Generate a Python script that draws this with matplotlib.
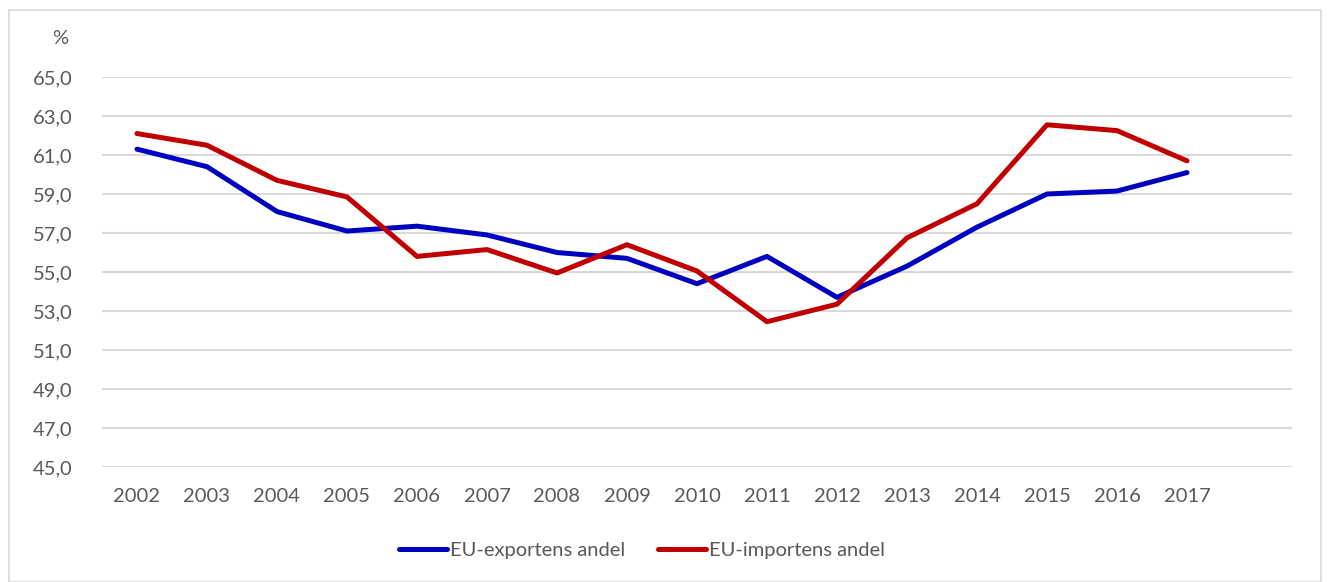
import matplotlib
matplotlib.use("Agg")
import matplotlib.pyplot as plt
from matplotlib.patches import Rectangle
from matplotlib.ticker import FuncFormatter

years = ["2002", "2003", "2004", "2005", "2006", "2007", "2008", "2009",
         "2010", "2011", "2012", "2013", "2014", "2015", "2016", "2017"]
export_share = [61.3, 60.4, 58.1, 57.1, 57.35, 56.9, 56.0, 55.7,
                54.4, 55.8, 53.7, 55.3, 57.3, 59.0, 59.15, 60.1]
import_share = [62.1, 61.5, 59.7, 58.85, 55.8, 56.15, 54.95, 56.4,
                55.05, 52.45, 53.35, 56.75, 58.5, 62.55, 62.25, 60.7]
export_label = "EU-exportens andel"
import_label = "EU-importens andel"
unit_label = "%"

plt.rcParams['font.family'] = ['Lato', 'DejaVu Sans']
txt = "#595959"
fs = 14.5
W, H = 1330, 582
fig = plt.figure(figsize=(W / 100, H / 100), dpi=100)

# outer chart border
fig.patches.append(Rectangle((9 / W, 0.5 / H), 1312 / W, (H - 10.5) / H,
                             transform=fig.transFigure, fill=False,
                             edgecolor="#D9D9D9", linewidth=1.2))

ax = fig.add_axes([102 / W, 1 - 467 / H, 1190 / W, 390 / H])
x = list(range(len(years)))
ax.plot(x, export_share, color="#0000C0", linewidth=3.6,
        solid_capstyle="round", solid_joinstyle="round", label=export_label, zorder=3)
ax.plot(x, import_share, color="#C00000", linewidth=3.6,
        solid_capstyle="round", solid_joinstyle="round", label=import_label, zorder=3)

ax.set_xlim(-0.5, 16.5)
ax.set_ylim(45, 65)
ax.set_yticks([45 + 2 * i for i in range(11)])
ax.yaxis.set_major_formatter(FuncFormatter(lambda v, p: f"{v:.1f}".replace(".", ",")))
ax.set_xticks(x)
ax.set_xticklabels(years)
ax.grid(axis="y", color="#D9D9D9", linewidth=1.5, zorder=0)
ax.set_axisbelow(True)
for s in ax.spines.values():
    s.set_visible(False)
ax.tick_params(axis="both", length=0, labelsize=fs, colors=txt)
ax.tick_params(axis="y", pad=21)
ax.tick_params(axis="x", pad=15)

fig.text(60 / W, 1 - 38 / H, unit_label, fontsize=fs, color=txt,
         ha="center", va="center")

leg = fig.legend(loc="center", bbox_to_anchor=(642 / W, 1 - 550 / H), ncol=2,
                 frameon=False, fontsize=fs, handlelength=2.4, handletextpad=0.15,
                 columnspacing=1.6)
for t in leg.get_texts():
    t.set_color(txt)

fig.savefig("out.png", dpi=100)
